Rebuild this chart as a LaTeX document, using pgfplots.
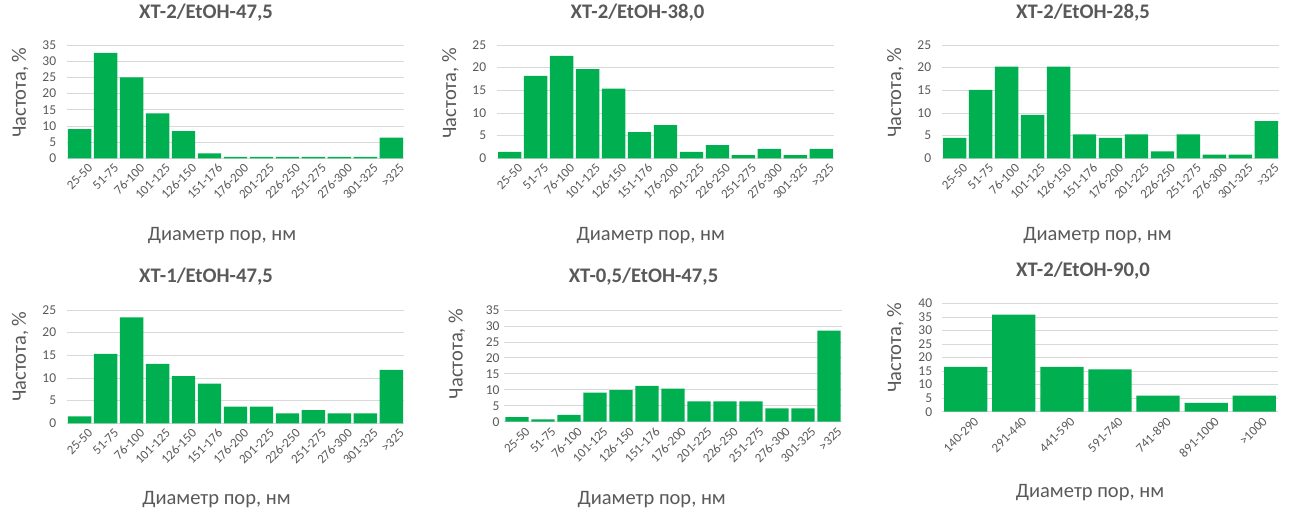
\documentclass[border=0pt]{standalone}
\usepackage{fontspec}
\setmainfont{Carlito}
\usepackage{pgfplots}
\pgfplotsset{compat=1.18}

\definecolor{bargreen}{HTML}{00B050}
\definecolor{txtgrey}{HTML}{595959}
\definecolor{gridgrey}{HTML}{D9D9D9}

\newcommand{\tickfont}{\fontsize{13}{13}\selectfont}
\newcommand{\labfont}{\fontsize{20.5}{20.5}\selectfont}
\newcommand{\titfont}{\fontsize{20.7}{20.7}\selectfont}

\pgfplotsset{
  hist/.style={
    scale only axis, anchor=south west,
    ybar, bar width=0.9, bar shift=0pt, ymin=0,
    axis x line*=bottom, axis y line*=left,
    x axis line style={gridgrey, line width=0.8pt},
    y axis line style={draw=none},
    major tick length=0pt,
    ymajorgrids, grid style={gridgrey, line width=0.8pt},
    ticklabel style={font=\tickfont, text=txtgrey},
    yticklabel style={font=\fontsize{13.5}{13.5}\selectfont},
    /pgf/number format/assume math mode=true,
    xticklabel style={rotate=45, anchor=east, xshift=5.5pt, yshift=-13pt},
    title style={font=\bfseries\titfont, text=txtgrey, anchor=base, at={(rel axis cs:0.5,1)}},
    xlabel style={font=\labfont, text=txtgrey, anchor=base, at={(rel axis cs:0.5,0)}},
    ylabel style={font=\labfont, text=txtgrey, anchor=base},
    xlabel={Диаметр пор, нм},
    ylabel={Частота, \%},
  },
  pores/.style={
    xmin=-0.5, xmax=12.5, xtick={0,...,12},
    xticklabels={25-50,51-75,76-100,101-125,126-150,151-176,176-200,201-225,226-250,251-275,276-300,301-325,>325},
  },
  bars/.style={fill=bargreen, draw=none},
}

\begin{document}
\begin{tikzpicture}
\path[use as bounding box] (0,0) rectangle (1289pt,513pt);

% ХТ-2/EtOH-47,5
\begin{axis}[hist, pores, at={(66.7pt,354.7pt)}, width=337.6pt, height=113.3pt,
  ymax=35, ytick distance=5,
  yticklabel style={xshift=-7pt},
  title={ХТ-2/EtOH-47,5}, title style={xshift=-29.5pt, yshift=20.5pt},
  xlabel style={xshift=-13.5pt, yshift=-82.4pt},
  ylabel style={at={([xshift=-40.7pt,yshift=9pt]rel axis cs:0,0.5)}}]
\addplot[bars] coordinates {(0,9.0) (1,32.6) (2,25.0) (3,13.9) (4,8.4) (5,1.5) (6,0.45) (7,0.45) (8,0.45) (9,0.45) (10,0.45) (11,0.45) (12,6.4)};
\end{axis}

% ХТ-2/EtOH-38,0
\begin{axis}[hist, pores, at={(496.7pt,354.7pt)}, width=337.6pt, height=113.3pt,
  ymax=25, ytick distance=5,
  yticklabel style={xshift=-7pt},
  title={ХТ-2/EtOH-38,0}, title style={xshift=-28pt, yshift=20.5pt},
  xlabel style={xshift=-14.7pt, yshift=-82.4pt},
  ylabel style={at={([xshift=-40.7pt,yshift=8.4pt]rel axis cs:0,0.5)}}]
\addplot[bars] coordinates {(0,1.4) (1,18.2) (2,22.6) (3,19.7) (4,15.4) (5,5.8) (6,7.3) (7,1.4) (8,2.9) (9,0.7) (10,2.1) (11,0.7) (12,2.1)};
\end{axis}

% ХТ-2/EtOH-28,5
\begin{axis}[hist, pores, at={(941.7pt,354.7pt)}, width=337.6pt, height=113.3pt,
  ymax=25, ytick distance=5,
  yticklabel style={xshift=-7pt},
  title={ХТ-2/EtOH-28,5}, title style={xshift=-27.5pt, yshift=20.5pt},
  xlabel style={xshift=-13pt, yshift=-82.4pt},
  ylabel style={at={([xshift=-40.7pt,yshift=9pt]rel axis cs:0,0.5)}}]
\addplot[bars] coordinates {(0,4.5) (1,15.1) (2,20.2) (3,9.6) (4,20.2) (5,5.3) (6,4.5) (7,5.3) (8,1.5) (9,5.3) (10,0.8) (11,0.8) (12,8.2)};
\end{axis}

% ХТ-1/EtOH-47,5
\begin{axis}[hist, pores, at={(66.7pt,89.7pt)}, width=337.6pt, height=113.3pt,
  ymax=25, ytick distance=5,
  yticklabel style={xshift=-7pt},
  title={ХТ-1/EtOH-47,5}, title style={xshift=-29.5pt, yshift=21.5pt},
  xlabel style={xshift=-19pt, yshift=-81.7pt},
  ylabel style={at={([xshift=-40.7pt,yshift=10pt]rel axis cs:0,0.5)}}]
\addplot[bars] coordinates {(0,1.5) (1,15.3) (2,23.4) (3,13.1) (4,10.4) (5,8.75) (6,3.7) (7,3.7) (8,2.2) (9,2.9) (10,2.2) (11,2.2) (12,11.8)};
\end{axis}

% ХТ-0,5/EtOH-47,5
\begin{axis}[hist, pores, at={(504pt,91.3pt)}, width=338pt, height=111.7pt,
  ymax=35, ytick distance=5,
  yticklabel style={xshift=-1pt},
  title={ХТ-0,5/EtOH-47,5}, title style={xshift=-29.5pt, yshift=21.5pt},
  xlabel style={xshift=-21.3pt, yshift=-83.3pt},
  ylabel style={at={([xshift=-41.4pt,yshift=12pt]rel axis cs:0,0.5)}}]
\addplot[bars] coordinates {(0,1.4) (1,0.7) (2,2.1) (3,9.1) (4,9.9) (5,11.2) (6,10.4) (7,6.4) (8,6.4) (9,6.4) (10,4.2) (11,4.2) (12,28.5)};
\end{axis}

% ХТ-2/EtOH-90,0
\begin{axis}[hist, at={(941.7pt,101.3pt)}, width=336.6pt, height=108.3pt,
  xmin=-0.5, xmax=6.5, xtick={0,...,6},
  xticklabels={140-290,291-440,441-590,591-740,741-890,891-1000,>1000},
  ymax=40, ytick distance=5,
  yticklabel style={xshift=-6pt},
  title={ХТ-2/EtOH-90,0}, title style={xshift=-27pt, yshift=20.7pt},
  xlabel style={xshift=-20pt, yshift=-85.6pt},
  ylabel style={at={([xshift=-40.7pt,yshift=10pt]rel axis cs:0,0.5)}}]
\addplot[bars] coordinates {(0,16.6) (1,35.9) (2,16.6) (3,15.6) (4,5.9) (5,3.3) (6,5.9)};
\end{axis}
\end{tikzpicture}
\end{document}
